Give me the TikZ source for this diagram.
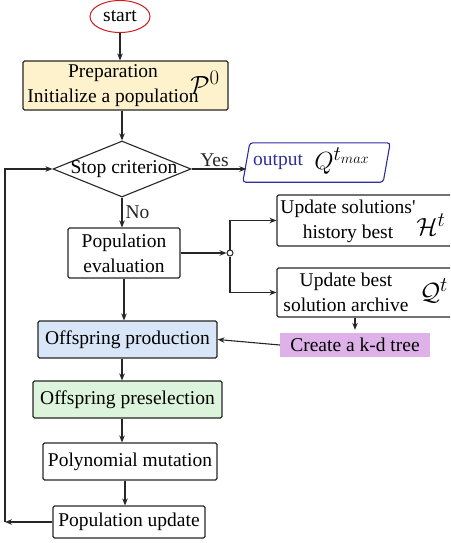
\documentclass[tikz,border=0pt]{standalone}
\usepackage{fontspec}
\setmainfont{Liberation Serif}
\usetikzlibrary{shapes.geometric,arrows.meta}
\definecolor{prepfill}{RGB}{253,242,204}
\definecolor{prodfill}{RGB}{217,230,248}
\definecolor{preselfill}{RGB}{220,244,220}
\definecolor{kdfill}{RGB}{222,178,232}
\definecolor{outblue}{RGB}{45,45,160}
\definecolor{startred}{RGB}{205,30,30}
\begin{document}
\begin{tikzpicture}[x=1pt,y=-1pt,
  font=\fontsize{19.5}{25}\selectfont,
  box/.style={draw=black!85, line width=1.1pt, rounded corners=1.5pt, inner sep=0pt},
  flow/.style={-{Stealth[length=7pt,width=5.5pt]}, line width=1.1pt, black!85},
  txt/.style={inner sep=0pt, align=center},
  mathbig/.style={inner sep=0pt, font=\fontsize{28}{30}\selectfont}]
\useasboundingbox (0,0) rectangle (450,543);
\clip (0,0) rectangle (450,543);

% start terminal
\node[draw=startred, ellipse, line width=1pt, minimum width=60pt, minimum height=32pt, inner sep=0pt] (start) at (120,16.5) {start};

% initialisation
\node[box, fill=prepfill, minimum width=205pt, minimum height=49pt] (prep) at (125.5,85.5) {};
\node[txt] (preptxt) at (113,86) {Preparation\\Initialize a population};
\node[mathbig] (p0) at (205,82) {$\mathcal{P}^0$};

% stopping test
\node[draw=black!85, diamond, line width=1.1pt, minimum width=138pt, minimum height=56pt, inner sep=0pt] (stop) at (122,169) {};
\node[txt] (stoptxt) at (124,169) {Stop criterion};

% final output: slanted box around a plain frame
\node[minimum width=140pt, minimum height=39pt, inner sep=0pt] (out) at (316.5,162.5) {};
\draw[outblue, line width=1.1pt, rounded corners=3pt]
  ([xshift=-3.5pt]out.south west) -- ([xshift=3.5pt]out.north west) --
  ([xshift=3.5pt]out.north east) -- ([xshift=-3.5pt]out.south east) -- cycle;
\node[txt, text=outblue] (outtxt) at (278,162) {output};
\node[mathbig] (qmax) at (342,161) {$Q^{t_{max}}$};

% evaluation
\node[box, minimum width=112pt, minimum height=50pt] (popeval) at (124,253) {};
\node[txt] (popevaltxt) at (124,253) {Population\\evaluation};

\node[draw=black!85, circle, line width=1pt, fill=white, minimum size=6pt, inner sep=0pt] (junc) at (230,253) {};

% archives
\node[box, minimum width=183pt, minimum height=51pt] (hbox) at (368.5,220.5) {};
\node[txt] (htxt) at (348,221) {Update solutions\textquotesingle\\history best};
\node[mathbig] (hsym) at (431,225) {$\mathcal{H}^t$};

\node[box, minimum width=183pt, minimum height=49pt] (qbox) at (368.5,292.5) {};
\node[txt] (qtxt) at (346,292.5) {Update best\\solution archive};
\node[mathbig] (qsym) at (434,291) {$\mathcal{Q}^t$};

\node[fill=kdfill, minimum width=150pt, minimum height=24pt, inner sep=0pt] (kd) at (355,345) {Create a k-d tree};

% main loop body
\node[box, fill=prodfill, minimum width=179pt, minimum height=37pt] (prod) at (127.5,339.5) {Offspring production};
\node[box, fill=preselfill, minimum width=189pt, minimum height=37pt] (presel) at (127.5,399.5) {Offspring preselection};
\node[box, minimum width=174pt, minimum height=37pt] (poly) at (130,461.5) {Polynomial mutation};
\node[box, minimum width=152pt, minimum height=32pt] (upd) at (129,522) {Population update};

\coordinate (loopc) at (5,522);

% connectors
\draw[flow] (start.south) -- (start.south |- prep.north);
\draw[flow] (stop.north |- prep.south) -- (stop.north);
\draw[flow] (stop.east) -- node[above, inner sep=2pt, pos=0.42] (yes) {Yes} (stop.east -| out.west);
\draw[flow] (stop.south) -- node[right, inner sep=3pt] (no) {No} (stop.south |- popeval.north);
\draw[flow] (popeval.east) -- (junc.west);
\draw[flow] (junc.north) |- (hbox.west);
\draw[flow] (junc.south) |- (qbox.west);
\draw[flow] (popeval.south) -- (popeval.south |- prod.north);
\draw[flow] (kd.north |- qbox.south) -- ([yshift=3pt]kd.north);
\draw[flow] (kd.west) -- (prod.east);
\draw[flow] (stop.south |- prod.south) -- (stop.south |- presel.north);
\draw[flow] (stop.south |- presel.south) -- (stop.south |- poly.north);
\draw[flow] ([xshift=-5pt]poly.south) -- ([xshift=-5pt]poly.south |- upd.north);
\draw[flow] (upd.west) -- (loopc);
\draw[flow] (loopc) |- (stop.west);
\end{tikzpicture}
\end{document}
